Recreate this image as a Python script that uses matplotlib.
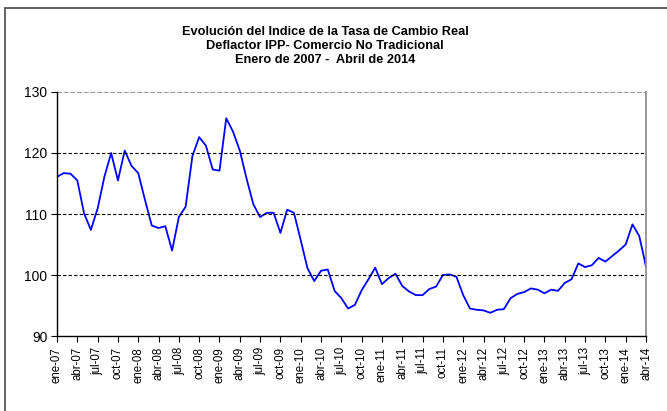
import matplotlib.pyplot as plt
from matplotlib.patches import Rectangle

plt.rcParams['font.family'] = ['Liberation Sans', 'DejaVu Sans']

# monthly index, ene-07 .. abr-14
values = [
    116.1, 116.7, 116.6, 115.5, 110.1, 107.4, 110.9, 116.1, 120.0, 115.5, 120.4, 117.9,  # 2007
    116.7, 112.3, 108.1, 107.7, 108.0, 104.0, 109.5, 111.2, 119.5, 122.6, 121.2, 117.3,  # 2008
    117.1, 125.7, 123.5, 120.4, 115.8, 111.6, 109.5, 110.2, 110.2, 106.9, 110.7, 110.2,  # 2009
    105.7, 101.1, 99.0, 100.7, 100.9, 97.4, 96.2, 94.5, 95.1, 97.5, 99.3, 101.2,         # 2010
    98.5, 99.5, 100.2, 98.2, 97.3, 96.7, 96.7, 97.7, 98.1, 100.0, 100.1, 99.7,           # 2011
    96.7, 94.5, 94.3, 94.2, 93.8, 94.3, 94.4, 96.2, 96.9, 97.2, 97.8, 97.6,             # 2012
    97.0, 97.6, 97.4, 98.7, 99.3, 101.9, 101.3, 101.6, 102.8, 102.2, 103.1, 104.0,       # 2013
    105.0, 108.3, 106.4, 101.4,                                                          # 2014
]
months = ['ene', 'abr', 'jul', 'oct']
years = ['07', '08', '09', '10', '11', '12', '13', '14']
tick_labels = [m + '-' + y for y in years for m in months][:30]

title = ('Evolución del Indice de la Tasa de Cambio Real\n'
         'Deflactor IPP- Comercio No Tradicional\n'
         'Enero de 2007 -  Abril de 2014')

fig = plt.figure(figsize=(6.67, 4.11), dpi=100)
fig.patches.append(Rectangle((5 / 667, -0.1), 1.2, 1 - 8 / 411 + 0.1,
                             transform=fig.transFigure, fill=False,
                             edgecolor='#555555', lw=1.3))

ax = fig.add_axes([57 / 667, 1 - 336 / 411, 589 / 667, 244 / 411])
x = list(range(len(values)))
ax.plot(x, values, color='#0000ff', lw=1.3)

ax.set_xlim(0, len(values) - 1)
ax.set_ylim(90, 130)
ax.set_yticks([90, 100, 110, 120, 130])
ax.set_xticks(range(0, len(values), 3))
ax.set_xticklabels(tick_labels, rotation=90, fontsize=8.3)
ax.tick_params(axis='y', labelsize=10, length=4, width=0.8, pad=3)
ax.tick_params(axis='x', length=4, width=0.8, pad=4)

for yv in [100, 110, 120]:
    ax.axhline(yv, color='black', ls=(0, (3, 2)), lw=0.8)
ax.axhline(130, color='#888888', ls=(0, (3, 1)), lw=1.2)

ax.spines['top'].set_visible(False)
ax.spines['right'].set_color('#888888')
ax.spines['right'].set_linewidth(1.2)
ax.spines['left'].set_linewidth(1)
ax.spines['bottom'].set_linewidth(1)

fig.text(325 / 667, 1 - 26 / 411, title, ha='center', va='top',
         fontsize=9.2, fontweight='bold', linespacing=1.2)

fig.savefig('out.png', dpi=100)
